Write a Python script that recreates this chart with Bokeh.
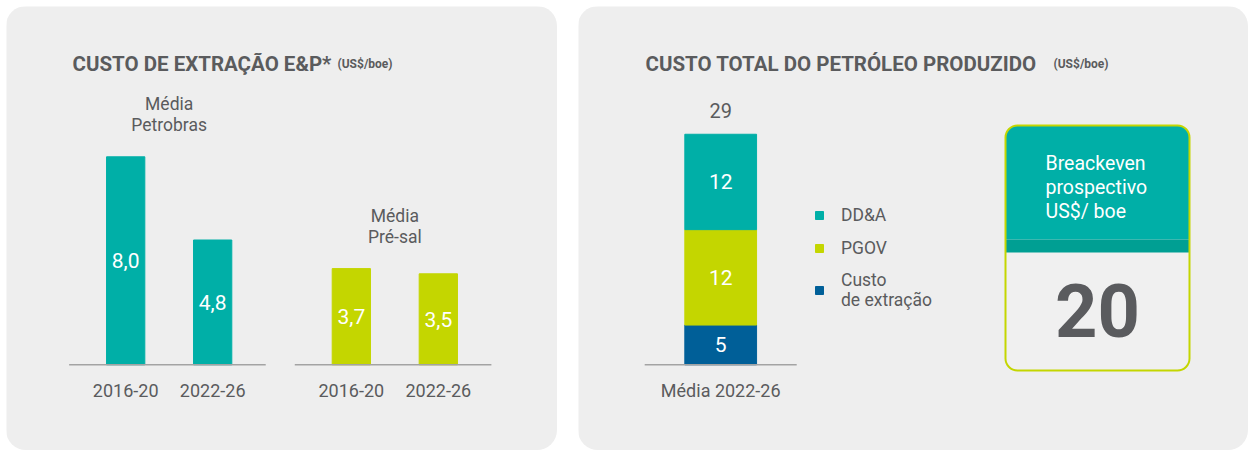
from bokeh.plotting import figure
from bokeh.models import (ColumnDataSource, FactorRange, Range1d, Label,
                          BoxAnnotation, Legend, LegendItem)
from bokeh.layouts import row
from bokeh.core.properties import value
from bokeh.embed import file_html
from bokeh.resources import INLINE

# ---------------- data ----------------
extraction_groups = ["Média Petrobras", "Média Pré-sal"]
extraction_periods = ["2016-20", "2022-26"]
extraction_petrobras = [8.0, 4.8]
extraction_presal = [3.7, 3.5]

total_category = ["Média 2022-26"]
stack_keys = ["custo", "pgov", "dda"]
legend_labels = ["Custo\nde extração", "PGOV", "DD&A"]
custo_extracao = [5]
pgov = [12]
dda = [12]
total_cost = [29]
breakeven = [20]

TITLE_LEFT = "CUSTO DE EXTRAÇÃO E&P*"
TITLE_RIGHT = "CUSTO TOTAL DO PETRÓLEO PRODUZIDO"
UNIT = "(US$/boe)"
BOX_TEXT = "Breackeven\nprospectivo\nUS$/ boe"

# ---------------- style ----------------
FONT = "Roboto"
GRAY_TXT = "#5A5B5D"
PANEL = "#EEEEEE"
TEAL = "#00AFA7"
TEAL_DARK = "#009F93"
LIME = "#C4D600"
BLUE = "#005F98"
AXIS_GRAY = "#A3A3A3"


def canvas_label(p, x, y, text, **kw):
    p.add_layout(Label(x=x, y=y, x_units="canvas", y_units="canvas", text=text,
                       text_font=FONT, **kw))


def canvas_box(p, l, r, t, b, **kw):
    p.add_layout(BoxAnnotation(left=l, right=r, top=t, bottom=b,
                               left_units="canvas", right_units="canvas",
                               top_units="canvas", bottom_units="canvas", **kw))


def panel_figure(w, h, x_range, y_range):
    p = figure(width=w, height=h, x_range=x_range, y_range=y_range,
               output_backend="svg", toolbar_location=None,
               x_axis_location=None, y_axis_location=None,
               min_border_left=0, min_border_right=0, min_border_top=0,
               min_border_bottom=0, background_fill_color=PANEL,
               border_fill_color=PANEL, outline_line_color=None,
               styles={"border-radius": "20px", "overflow": "hidden"})
    p.grid.visible = False
    return p


# ---------------- left panel ----------------
W1, H1 = 551, 444
PX1 = 26.0           # px per US$/boe
BASE1 = 358.3        # baseline (px from top)
factors = [(g, per) for g in extraction_groups for per in extraction_periods]
vals = extraction_petrobras + extraction_presal
colors = [TEAL] * len(extraction_petrobras) + [LIME] * len(extraction_presal)
src1 = ColumnDataSource(dict(
    x=factors, top=vals, mid=[v / 2 for v in vals], color=colors,
    zero=[0] * len(vals), cat=[per for _, per in factors],
    label=[f"{v:.1f}".replace(".", ",") for v in vals]))

x1 = FactorRange(*factors, factor_padding=0.0, group_padding=0.594,
                 range_padding=0.87, range_padding_units="absolute")
p1 = panel_figure(W1, H1, x1, Range1d(-(H1 - BASE1) / PX1, BASE1 / PX1))

p1.vbar(x="x", top="top", width=0.44, color="color", source=src1)
p1.text(x="x", y="mid", text="label", source=src1, text_color="white",
        text_font=value(FONT), text_font_size="21px", text_align="center",
        text_baseline="middle")
p1.text(x="x", y="zero", text="cat", source=src1, y_offset=26,
        text_color=GRAY_TXT, text_font=value(FONT), text_font_size="18px",
        text_align="center", text_baseline="middle")

grp_src = ColumnDataSource(dict(
    x=extraction_groups,
    y=[max(extraction_petrobras), max(extraction_presal)],
    text=[g.replace(" ", "\n", 1) for g in extraction_groups]))
p1.text(x="x", y="y", text="text", source=grp_src, y_offset=-42,
        text_color=GRAY_TXT, text_font=value(FONT), text_font_size="17.5px",
        text_align="center", text_baseline="middle", text_line_height=1.07)

base_src = ColumnDataSource(dict(
    x0=[(g, -1.15) for g in extraction_groups],
    x1=[(g, 1.11) for g in extraction_groups],
    y=[0] * len(extraction_groups)))
p1.segment(x0="x0", y0="y", x1="x1", y1="y", source=base_src,
           line_color=AXIS_GRAY, line_width=1.5)

canvas_label(p1, 66, 57, TITLE_LEFT, text_font_style="bold",
             text_font_size="20.5px", text_color=GRAY_TXT,
             text_baseline="alphabetic")
canvas_label(p1, 331, 57, UNIT, text_font_style="bold",
             text_font_size="12px", text_color=GRAY_TXT,
             text_baseline="alphabetic")

# ---------------- right panel ----------------
W2, H2 = 670, 444
PX2 = 7.95           # px per US$/boe
BASE2 = 358.3
UX2 = 152.0          # px per category slot
BAR_X = 142.2        # centre of the stacked bar (px from panel left)
x_idx = list(range(len(total_category)))
src2 = ColumnDataSource(dict(x=x_idx, custo=custo_extracao, pgov=pgov, dda=dda))
p2 = panel_figure(W2, H2,
                  Range1d(-BAR_X / UX2, (W2 - BAR_X) / UX2),
                  Range1d(-(H2 - BASE2) / PX2, BASE2 / PX2))

rs = p2.vbar_stack(stack_keys, x="x", width=0.472, color=[BLUE, LIME, TEAL],
                   source=src2)

seg_vals = [custo_extracao[0], pgov[0], dda[0]]
mids, acc = [], 0
for v in seg_vals:
    mids.append(acc + v / 2)
    acc += v
seg_src = ColumnDataSource(dict(x=x_idx * len(seg_vals), y=mids,
                                text=[str(v) for v in seg_vals]))
p2.text(x="x", y="y", text="text", source=seg_src, text_color="white",
        text_font=value(FONT), text_font_size="21px", text_align="center",
        text_baseline="middle")

tot_src = ColumnDataSource(dict(x=x_idx, y=total_cost, zero=[0] * len(x_idx),
                                text=[str(t) for t in total_cost],
                                cat=total_category,
                                x0=[i - 0.5 for i in x_idx],
                                x1=[i + 0.5 for i in x_idx]))
p2.text(x="x", y="y", text="text", source=tot_src, y_offset=-24,
        text_color=GRAY_TXT, text_font=value(FONT), text_font_size="20px",
        text_align="center", text_baseline="middle")
p2.text(x="x", y="zero", text="cat", source=tot_src, y_offset=26,
        text_color=GRAY_TXT, text_font=value(FONT), text_font_size="18px",
        text_align="center", text_baseline="middle")
p2.segment(x0="x0", y0="zero", x1="x1", y1="zero", source=tot_src,
           line_color=AXIS_GRAY, line_width=1.5)

items = [LegendItem(label=legend_labels[i], renderers=[rs[i]])
         for i in reversed(range(len(rs)))]
legend = Legend(items=items, location=(236, 140), glyph_width=10,
                glyph_height=10, label_text_font=FONT,
                label_text_font_size="17.5px", label_text_color=GRAY_TXT,
                label_standoff=17, spacing=12, label_height=21,
                padding=0, margin=0,
                background_fill_alpha=0, border_line_color=None)
p2.add_layout(legend)

canvas_label(p2, 67, 57, TITLE_RIGHT, text_font_style="bold",
             text_font_size="20.5px", text_color=GRAY_TXT,
             text_baseline="alphabetic")
canvas_label(p2, 475, 57, UNIT, text_font_style="bold",
             text_font_size="12px", text_color=GRAY_TXT,
             text_baseline="alphabetic")

# breakeven box
canvas_box(p2, 427, 611, 119, 364, fill_color="#F0F0F0", fill_alpha=1,
           line_color=None, border_radius=12)
canvas_box(p2, 427, 611, 119, 233, fill_color=TEAL, fill_alpha=1,
           line_color=None, border_radius=(12, 12, 0, 0))
canvas_box(p2, 427, 611, 233, 246, fill_color=TEAL_DARK, fill_alpha=1,
           line_color=None)
canvas_box(p2, 427, 611, 119, 364, fill_color=None, line_color=LIME,
           line_width=2, line_alpha=1, border_radius=12)
canvas_label(p2, 467, 181, BOX_TEXT, text_color="white",
             text_font_size="19.5px", text_baseline="middle",
             text_line_height=1.05)
canvas_label(p2, 519, 304, str(breakeven[0]), text_color="#5A5B5E",
             text_font_style="bold", text_font_size="74px",
             text_align="center", text_baseline="middle")

layout = row(p1, p2, spacing=21, margin=(6, 0, 0, 6))
open("out.html", "w").write(file_html(layout, INLINE))
